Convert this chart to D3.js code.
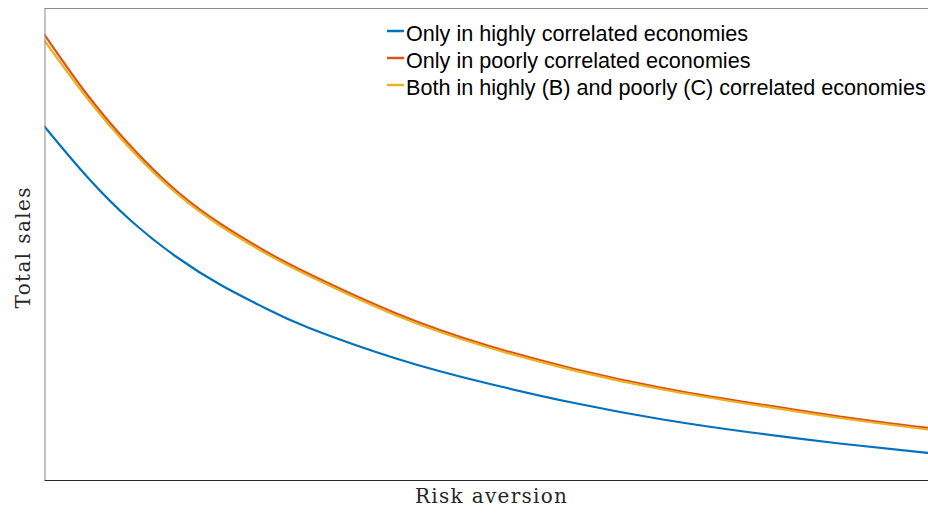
<!DOCTYPE html>
<html>
<head>
<meta charset="utf-8">
<script src="https://cdn.jsdelivr.net/npm/d3@7"></script>
<style>
  html, body { margin: 0; padding: 0; background: #fff; }
  svg { display: block; }
</style>
</head>
<body>
<svg id="chart" width="928" height="514"></svg>
<script>
// Risk aversion (normalised) and total sales (arbitrary units) for each scenario
const riskAversion = [0, 0.05, 0.1, 0.15, 0.2, 0.25, 0.3, 0.4, 0.5, 0.6, 0.7, 0.8, 0.9, 1.0];
const salesHighly  = [75.00, 63.98, 54.66, 47.25, 41.31, 36.44, 32.20, 25.64, 20.55, 16.31, 12.82, 10.06, 7.73, 5.72];
const salesPoorly  = [94.49, 81.36, 70.34, 61.23, 54.24, 48.52, 43.64, 35.17, 28.60, 23.52, 19.49, 16.31, 13.45, 11.02];
const salesBoth    = [93.22, 80.61, 69.70, 60.70, 53.77, 48.09, 43.22, 34.75, 28.22, 23.18, 19.17, 16.00, 13.14, 10.70];

const seriesNames = [
  "Only in highly correlated economies",
  "Only in poorly correlated economies",
  "Both in highly (B) and poorly (C) correlated economies"
];
const seriesColors = ["#0072BD", "#D95319", "#EDB120"];
const seriesValues = [salesHighly, salesPoorly, salesBoth];

const svg = d3.select("#chart");
const margin = { left: 44.5, right: 938.5, top: 8.5, bottom: 480.5 };

const x = d3.scaleLinear().domain([0, 1]).range([44, 928]);
const y = d3.scaleLinear().domain([0, 100]).range([480, 8]);

const line = d3.line()
  .x(d => x(d[0]))
  .y(d => y(d[1]))
  .curve(d3.curveNatural);

// Plot area clip
svg.append("defs").append("clipPath").attr("id", "plotClip")
  .append("rect")
  .attr("x", margin.left).attr("y", margin.top)
  .attr("width", margin.right - margin.left)
  .attr("height", margin.bottom - margin.top);

// Curves
const plot = svg.append("g").attr("clip-path", "url(#plotClip)");
seriesValues.forEach((vals, i) => {
  plot.append("path")
    .datum(riskAversion.map((r, j) => [r, vals[j]]))
    .attr("d", line)
    .attr("fill", "none")
    .attr("stroke", seriesColors[i])
    .attr("stroke-width", 2.2)
    .attr("stroke-linejoin", "round");
});

// Axes box (no ticks)
const xAxisBottom = d3.axisBottom(x).tickValues([]).tickSizeOuter(0);
const yAxisLeft = d3.axisLeft(y).tickValues([]).tickSizeOuter(0);
svg.append("g").attr("transform", `translate(0,${margin.bottom})`).call(xAxisBottom)
  .select(".domain").attr("d", `M${margin.left},0H${margin.right}`).attr("stroke", "#262626");
svg.append("g").attr("transform", `translate(${margin.left},0)`).call(yAxisLeft)
  .select(".domain").attr("stroke", "#8a8a8a");
svg.append("line")
  .attr("x1", margin.left).attr("x2", margin.right)
  .attr("y1", margin.top).attr("y2", margin.top)
  .attr("stroke", "#8a8a8a");

// Axis labels
svg.append("text")
  .attr("x", 491).attr("y", 503)
  .attr("text-anchor", "middle")
  .attr("font-family", "DejaVu Serif, serif")
  .attr("font-size", 20)
  .attr("textLength", 152)
  .attr("lengthAdjust", "spacing")
  .attr("fill", "#262626")
  .text("Risk aversion");
svg.append("text")
  .attr("transform", "translate(30,248) rotate(-90)")
  .attr("text-anchor", "middle")
  .attr("font-family", "DejaVu Serif, serif")
  .attr("font-size", 20)
  .attr("textLength", 121)
  .attr("lengthAdjust", "spacing")
  .attr("fill", "#262626")
  .text("Total sales");

// Legend
const legend = svg.append("g");
seriesNames.forEach((name, i) => {
  const by = 41 + i * 27;
  legend.append("line")
    .attr("x1", 387).attr("x2", 404)
    .attr("y1", by - 10).attr("y2", by - 10)
    .attr("stroke", seriesColors[i])
    .attr("stroke-width", 2.5);
  legend.append("text")
    .attr("x", 406).attr("y", by)
    .attr("font-family", "Liberation Sans, Arial, sans-serif")
    .attr("font-size", 21.6)
    .attr("fill", "#000")
    .text(name);
});
</script>
</body>
</html>
